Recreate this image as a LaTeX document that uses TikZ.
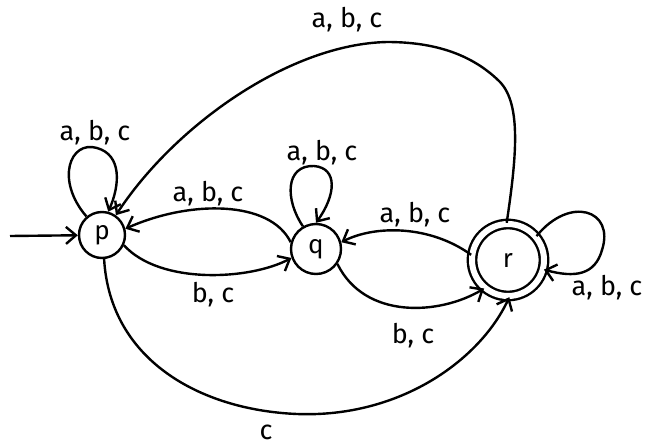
\documentclass[tikz,border=0pt]{standalone}
\usepackage{fontspec}
\setmainfont{Fira Sans}
\usetikzlibrary{arrows.meta}
\begin{document}
\begin{tikzpicture}[x=1pt,y=-1pt,
  st/.style={draw,circle,line width=2.4pt,minimum size=46pt,inner sep=0pt,font=\fontsize{26}{28}\selectfont},
  acc/.style={st,double,double distance=6pt,minimum size=72pt},
  tr/.style={line width=2.4pt,-{Straight Barb[length=10pt,width=17pt]}},
  lab/.style={font=\fontsize{27}{29}\selectfont}]
\useasboundingbox (0,0) rectangle (645,447);
\node[st] (p) at (102,235) {p};
\node[st,minimum size=50pt] (q) at (316,249) {q};
\node[acc] (r) at (508,260) {r};
\coordinate (s) at (10,236);
\draw[tr] (s) -- (p);
% self loops
\draw[tr] (p.130) .. controls (55,180) and (70,140) .. (97,148) .. controls (122,155) and (120,185) .. (p.75);
\draw[tr] (q.120) .. controls (285,200) and (285,165) .. (314,166) .. controls (338,168) and (336,195) .. (q.90);
\draw[tr] (r.40) .. controls (570,195) and (615,210) .. (602,250) .. controls (595,275) and (575,278) .. (r.-15);
% big arc r -> p
\draw[tr] (r.92) .. controls (516,160) and (522,105) .. (500,82) .. controls (470,52) and (430,42) .. (387,42) .. controls (290,44) and (175,125) .. (p.55);
% p <-> q
\draw[tr] (q.165) .. controls (270,200) and (190,200) .. (p.15);
\draw[tr] (p.-25) .. controls (160,285) and (250,280) .. (q.-160);
% q <-> r
\draw[tr] (r.172) .. controls (430,225) and (375,225) .. (q.15);
\draw[tr] (q.-35) .. controls (365,320) and (440,315) .. (r.-130);
% p -> r
\draw[tr] (p.-85) .. controls (110,360) and (200,410) .. (297,414) .. controls (400,418) and (480,360) .. (r.-88);
% labels
\node[lab] at (95,133) {a, b, c};
\node[lab] at (322,153) {a, b, c};
\node[lab] at (607,288) {a, b, c};
\node[lab] at (347,20) {a, b, c};
\node[lab] at (208,194) {a, b, c};
\node[lab] at (415,215) {a, b, c};
\node[lab] at (213,295) {b, c};
\node[lab] at (413,336) {b, c};
\node[lab] at (266,432) {c};
\end{tikzpicture}
\end{document}
